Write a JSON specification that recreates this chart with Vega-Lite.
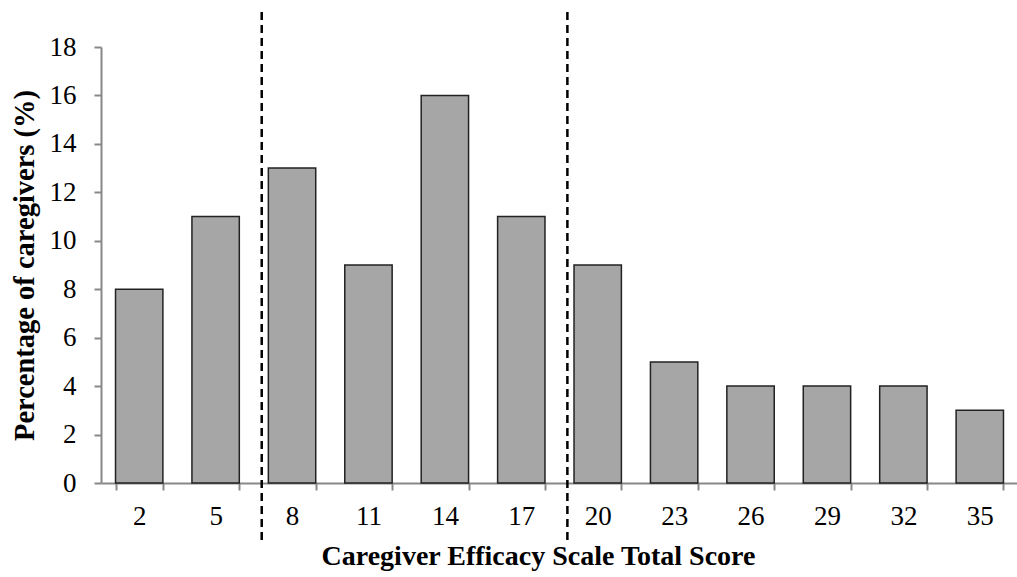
{
  "$schema": "https://vega.github.io/schema/vega-lite/v6.json",
  "width": 917,
  "height": 436,
  "autosize": {"type": "none"},
  "padding": {"left": 101, "top": 47, "right": 0, "bottom": 94},
  "background": "white",
  "config": {"view": {"stroke": null}},
  "layer": [
    {
      "data": {"values": [
        {"score": "2", "pct": 8},
        {"score": "5", "pct": 11},
        {"score": "8", "pct": 13},
        {"score": "11", "pct": 9},
        {"score": "14", "pct": 16},
        {"score": "17", "pct": 11},
        {"score": "20", "pct": 9},
        {"score": "23", "pct": 5},
        {"score": "26", "pct": 4},
        {"score": "29", "pct": 4},
        {"score": "32", "pct": 4},
        {"score": "35", "pct": 3}
      ]},
      "mark": {"type": "bar", "fill": "#a6a6a6", "stroke": "#222222", "strokeWidth": 1.5},
      "encoding": {
        "x": {
          "field": "score", "type": "ordinal", "sort": null,
          "scale": {"paddingInner": 0.38, "paddingOuter": 0.19},
          "axis": {
            "title": "Caregiver Efficacy Scale Total Score",
            "titleX": 437,
            "labelAngle": 0, "tickBand": "extent",
            "domainColor": "#888888", "domainWidth": 2,
            "tickColor": "#888888", "tickWidth": 2, "tickSize": 7,
            "labelFont": "Liberation Serif", "labelFontSize": 27, "labelColor": "#000000", "labelPadding": 13,
            "titleFont": "Liberation Serif", "titleFontSize": 28, "titleFontWeight": "bold", "titleColor": "#000000", "titlePadding": 13
          }
        },
        "y": {
          "field": "pct", "type": "quantitative",
          "scale": {"domain": [0, 18], "nice": false},
          "axis": {
            "title": "Percentage of caregivers (%)",
            "values": [0, 2, 4, 6, 8, 10, 12, 14, 16, 18],
            "grid": false,
            "domainColor": "#888888", "domainWidth": 2,
            "tickColor": "#888888", "tickWidth": 2, "tickSize": 7,
            "labelFont": "Liberation Serif", "labelFontSize": 27, "labelColor": "#000000", "labelPadding": 18,
            "titleFont": "Liberation Serif", "titleFontSize": 28.5, "titleFontWeight": "bold", "titleColor": "#000000", "titlePadding": 10
          }
        }
      }
    },
    {
      "data": {"values": [{"score": "8"}, {"score": "20"}]},
      "mark": {"type": "rule", "color": "#000000", "strokeWidth": 2.5, "strokeDash": [8, 5], "clip": false},
      "encoding": {
        "x": {"field": "score", "type": "ordinal", "sort": null, "bandPosition": -0.14},
        "y": {"datum": 19.45},
        "y2": {"datum": -2.4}
      }
    }
  ]
}
